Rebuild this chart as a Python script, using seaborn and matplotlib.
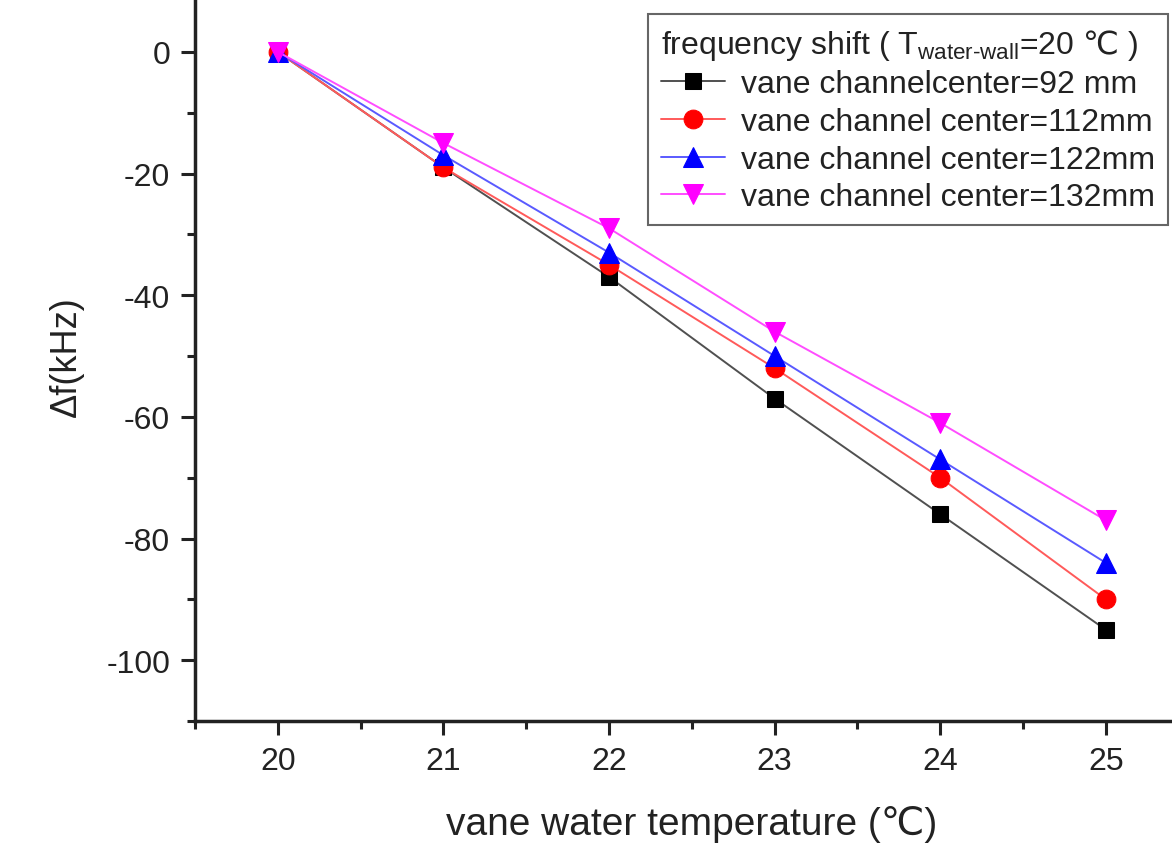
import matplotlib
matplotlib.use("Agg")
import matplotlib.pyplot as plt
import seaborn as sns
import pandas as pd
from matplotlib.ticker import MultipleLocator

temperature = [20, 21, 22, 23, 24, 25]
shift_92 = [0, -19, -37, -57, -76, -95]
shift_112 = [0, -19, -35, -52, -70, -90]
shift_122 = [0, -17, -33, -50, -67, -84]
shift_132 = [0, -15, -29, -46, -61, -77]
labels = ["vane channelcenter=92 mm", "vane channel center=112mm",
          "vane channel center=122mm", "vane channel center=132mm"]
legend_title = "frequency shift ( T$_{\\mathrm{water\u2010wall}}$=20 $\\mathsf{\u2103}$ )"

sns.set_theme(style="ticks")
plt.rcParams['font.family'] = ['Liberation Sans', 'DejaVu Sans']
plt.rcParams['mathtext.fontset'] = 'custom'
plt.rcParams['mathtext.rm'] = 'Liberation Sans'
plt.rcParams['mathtext.sf'] = 'DejaVu Sans'
plt.rcParams['axes.unicode_minus'] = False

fig = plt.figure(figsize=(11.72, 8.45), dpi=100)
ax = fig.add_axes([195/1172, 123/845, 993.6/1172, 730/845])

series = [shift_92, shift_112, shift_122, shift_132]
line_colors = ["#505050", "#ff5a5a", "#5a5aff", "#ff4dff"]
mark_colors = ["black", "red", "blue", "magenta"]
markers = ["s", "o", "^", "v"]
msizes = [12, 13.5, 14, 14]

for vals, lab, lc, mc, m, ms in zip(series, labels, line_colors, mark_colors, markers, msizes):
    df = pd.DataFrame({"T": temperature, "df": vals})
    sns.lineplot(data=df, x="T", y="df", ax=ax, color=lc, marker=m, markersize=ms,
                 markerfacecolor=mc, markeredgecolor=mc, linewidth=1.4, label=lab)

ax.set_xlim(19.5, 25.5)
ax.set_ylim(-110, 10)
ax.xaxis.set_major_locator(MultipleLocator(1))
ax.xaxis.set_minor_locator(MultipleLocator(0.5))
ax.yaxis.set_major_locator(MultipleLocator(20))
ax.yaxis.set_minor_locator(MultipleLocator(10))
ax.tick_params(which='major', direction='out', length=10, width=2.2, labelsize=23, pad=8, colors='#222222')
ax.tick_params(which='minor', direction='out', length=6, width=2.2, colors='#222222')
for s in ax.spines.values():
    s.set_linewidth(2.5)
    s.set_color('#222222')

ax.set_xlabel("vane water temperature (\u2103)", fontsize=28, labelpad=21, color='#222222')
ax.set_ylabel("\u0394f(kHz)", fontsize=26, labelpad=16, color='#222222')

handles, hlabels = ax.get_legend_handles_labels()
leg = ax.legend(handles, hlabels, title=legend_title, loc='upper right',
                bbox_to_anchor=(1168/1172, 1 - 15/845), bbox_transform=fig.transFigure,
                borderaxespad=0,
                fontsize=23, title_fontsize=23, frameon=True, fancybox=False,
                framealpha=1, edgecolor='#666666', handlelength=2.0,
                labelspacing=0.24, handletextpad=0.5, borderpad=0.4, alignment='left')
leg.get_frame().set_linewidth(1.5)
for t in leg.get_texts() + [leg.get_title()]:
    t.set_color('#222222')

fig.savefig("out.png", dpi=100)
